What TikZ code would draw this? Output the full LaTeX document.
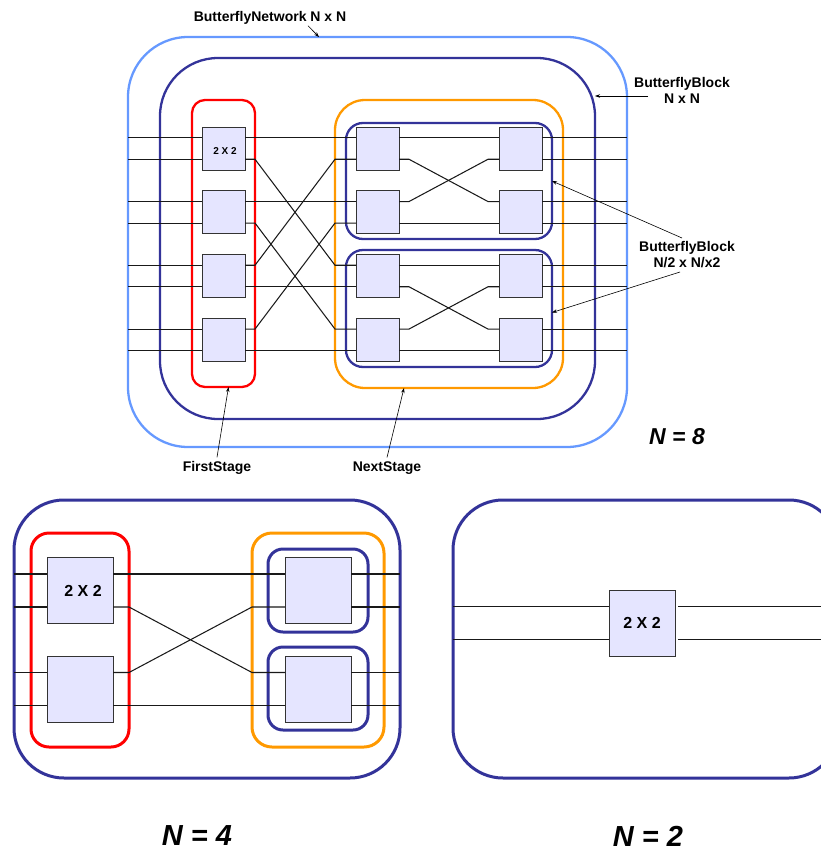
\documentclass[tikz,border=0pt]{standalone}
\usepackage{fontspec}
\setmainfont{Liberation Sans}
\usetikzlibrary{arrows.meta}

\definecolor{netblue}{RGB}{102,153,255}
\definecolor{blkblue}{RGB}{51,51,153}
\definecolor{stagered}{RGB}{255,0,0}
\definecolor{stageorange}{RGB}{255,153,0}
\definecolor{swfill}{RGB}{229,229,255}

% ports of a switch box: name, quarter of its height
\newcommand{\swports}[2]{%
  \coordinate (#1-i1) at ([yshift=#2]#1.west);
  \coordinate (#1-i2) at ([yshift=-#2]#1.west);
  \coordinate (#1-o1) at ([yshift=#2]#1.east);
  \coordinate (#1-o2) at ([yshift=-#2]#1.east);
}

\tikzset{
  wrap/.style={rounded corners=#1, inner sep=0pt, outer sep=0pt, line width=2.3pt},
  sw/.style={draw=gray!40!black, fill=swfill, line width=0.9pt, minimum size=#1, inner sep=0pt, outer sep=0pt},
  wire/.style={line width=1.05pt, black!90},
  pointer/.style={-{Stealth[length=5pt,width=3.5pt]}, line width=0.6pt},
  lbl/.style={font=\fontsize{14}{16}\selectfont\bfseries, align=center, inner sep=1pt},
  bignum/.style={font=\fontsize{#1}{#1}\selectfont\bfseries\itshape, inner sep=0pt}
}

\begin{document}
\begin{tikzpicture}[x=1pt, y=-1pt]
  \useasboundingbox (0,0) rectangle (821,852);

  % -- N = 8: frames --
  \node[wrap=60pt, draw=netblue, minimum width=499pt, minimum height=410pt] (net) at (377.5,242) {};
  \node[wrap=58pt, draw=blkblue, minimum width=435pt, minimum height=361pt] (blk) at (377.5,238.5) {};
  \node[wrap=13pt, draw=stagered, minimum width=63pt, minimum height=287pt] (first) at (223.5,243.5) {};
  \node[wrap=30pt, draw=stageorange, minimum width=228pt, minimum height=288pt] (next) at (449,244) {};
  \node[wrap=17pt, draw=blkblue, minimum width=206pt, minimum height=116pt] (half0) at (449,181) {};
  \node[wrap=17pt, draw=blkblue, minimum width=206pt, minimum height=117pt] (half1) at (449,308.5) {};

  % -- N = 8: switches --
  \foreach \k/\y in {0/148.5, 1/212.3, 2/276, 3/339.8} {
    \node[sw=43pt] (a\k) at (223.5,\y) {};
    \node[sw=43pt] (b\k) at (377.5,\y) {};
    \node[sw=43pt] (c\k) at (520.5,\y) {};
    \swports{a\k}{10.75pt}
    \swports{b\k}{10.75pt}
    \swports{c\k}{10.75pt}
  }
  \node[font=\fontsize{10}{12}\selectfont\bfseries, inner sep=0pt] (a0-name) at (225,151) {2 X 2};

  % -- N = 8: wires --
  \foreach \k in {0,...,3} {
    \draw[wire] (net.west |- a\k-i1) -- (a\k-i1);
    \draw[wire] (net.west |- a\k-i2) -- (a\k-i2);
    \draw[wire] (c\k-o1) -- (net.east |- c\k-o1);
    \draw[wire] (c\k-o2) -- (net.east |- c\k-o2);
  }
  \foreach \s/\t in {a0-o1/b0-i1, a0-o2/b2-i1, a1-o1/b1-i1, a1-o2/b3-i1,
                     a2-o1/b0-i2, a2-o2/b2-i2, a3-o1/b1-i2, a3-o2/b3-i2}
    \draw[wire] (\s) -- (first.east |- \s) -- (next.west |- \t) -- (\t);
  \foreach \s/\t in {b0-o1/c0-i1, b0-o2/c1-i1, b1-o1/c0-i2, b1-o2/c1-i2,
                     b2-o1/c2-i1, b2-o2/c3-i1, b3-o1/c2-i2, b3-o2/c3-i2}
    \draw[wire] (\s) -- ++(10,0) -- ([xshift=-11pt]\t) -- (\t);

  % -- N = 8: labels --
  \node[lbl] (lnet) at (270,18) {ButterflyNetwork N x N};
  \coordinate (net-head) at (319,37);
  \draw[pointer] ([xshift=38pt]lnet.south) -- (net-head);

  \node[lbl] (lblk) at (682,90) {ButterflyBlock\\N x N};
  \coordinate (lblk-tail) at (648,96);
  \draw[pointer] (lblk-tail) -- (blk.east |- lblk-tail);

  \node[lbl] (lhalf) at (687,255) {ButterflyBlock\\N/2 x N/x2};
  \coordinate (lhalf-up) at (682,238);
  \coordinate (lhalf-dn) at (680,272);
  \draw[pointer] (lhalf-up) -- (half0.east);
  \draw[pointer] (lhalf-dn) -- ([yshift=-4pt]half1.east);

  \node[lbl] (lfirst) at (217,468) {FirstStage};
  \draw[pointer] ([yshift=3pt]lfirst.north) -- ([xshift=5pt]first.south);
  \node[lbl] (lnext) at (387,468) {NextStage};
  \draw[pointer] ([yshift=3pt]lnext.north) -- ([xshift=-45pt]next.south);

  \node[bignum=23] (n8) at (677,437) {N = 8};

  % -- N = 4 --
  \node[wrap=50pt, line width=3pt, draw=blkblue, minimum width=386pt, minimum height=278pt] (blk4) at (207,639) {};
  \node[wrap=18pt, line width=3pt, draw=stagered, minimum width=98pt, minimum height=214pt] (first4) at (80,640) {};
  \node[wrap=20pt, line width=3pt, draw=stageorange, minimum width=132pt, minimum height=214pt] (next4) at (318,640) {};
  \node[wrap=15pt, line width=3pt, draw=blkblue, minimum width=100pt, minimum height=83pt] (half4a) at (318,590.5) {};
  \node[wrap=15pt, line width=3pt, draw=blkblue, minimum width=100pt, minimum height=83pt] (half4b) at (318,688.5) {};

  \foreach \k/\y in {0/590.5, 1/689} {
    \node[sw=66pt] (d\k) at (80,\y) {};
    \node[sw=66pt] (e\k) at (318,\y) {};
    \swports{d\k}{16.5pt}
    \swports{e\k}{16.5pt}
    \draw[wire] (blk4.west |- d\k-i1) -- (d\k-i1);
    \draw[wire] (blk4.west |- d\k-i2) -- (d\k-i2);
    \draw[wire] (e\k-o1) -- (blk4.east |- e\k-o1);
    \draw[wire] (e\k-o2) -- (blk4.east |- e\k-o2);
  }
  \node[font=\fontsize{16}{18}\selectfont\bfseries, inner sep=0pt] (d0-name) at (83,591) {2 X 2};
  \foreach \s/\t in {d0-o1/e0-i1, d0-o2/e1-i1, d1-o1/e0-i2, d1-o2/e1-i2}
    \draw[wire] (\s) -- (first4.east |- \s) -- (next4.west |- \t) -- (\t);

  \node[bignum=29] (n4) at (197,836) {N = 4};

  % -- N = 2 --
  \node[wrap=50pt, line width=3pt, draw=blkblue, minimum width=386pt, minimum height=278pt] (blk2) at (646,639) {};
  \node[sw=66pt, font=\fontsize{16}{18}\selectfont\bfseries] (f0) at (642,623) {2 X 2};
  \swports{f0}{16.5pt}
  \draw[wire] (blk2.west |- f0-i1) -- (f0-i1);
  \draw[wire] (blk2.west |- f0-i2) -- (f0-i2);
  \draw[wire] ([xshift=3pt]f0-o1) -- (blk2.east |- f0-o1);
  \draw[wire] ([xshift=3pt]f0-o2) -- (blk2.east |- f0-o2);

  \node[bignum=29] (n2) at (648,836) {N = 2};

\end{tikzpicture}
\end{document}
